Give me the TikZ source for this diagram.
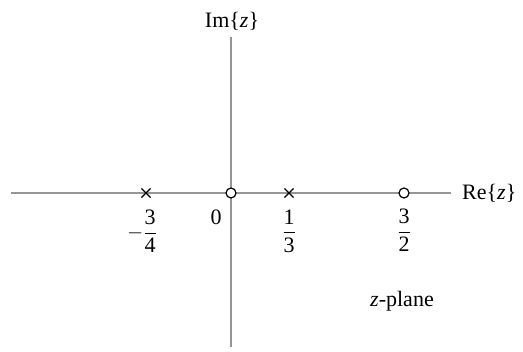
\documentclass[tikz,border=0pt]{standalone}
\usepackage{amsmath}
\usepackage{fontspec}
\setmainfont{Liberation Serif}
\usetikzlibrary{shapes.misc}
\definecolor{axisgray}{RGB}{150,150,150}
\begin{document}
\begin{tikzpicture}[x=1pt,y=-1pt,
  axis/.style={draw=axisgray,line width=1.3pt},
  polemark/.style={cross out,draw=black,line width=1.1pt,minimum size=8pt,inner sep=0pt},
  zeromark/.style={circle,draw=black,fill=white,line width=1.2pt,minimum size=10pt,inner sep=0pt},
  lbl/.style={font=\fontsize{22}{26}\selectfont,inner sep=0pt}]
\useasboundingbox (0,0) rectangle (523,352);
\coordinate (xl) at (11,193);
\coordinate (xr) at (451,193);
\coordinate (yt) at (231,37);
\coordinate (yb) at (231,347);
\draw[axis] (xl) -- (xr);
\draw[axis] (yt) -- (yb);
\node[zeromark] (z0) at (231,193) {};
\node[zeromark] (z1) at (404,193) {};
\node[polemark] (p0) at (146,193) {};
\node[polemark] (p1) at (289,193) {};
\node[lbl] (im) at (232,21) {Im\{\textit{z}\}};
\node[lbl,anchor=west] (re) at (462,193) {Re\{\textit{z}\}};
\node[lbl] (lm) at (142,231) {$-\dfrac{\text{3}}{\text{4}}$};
\node[lbl] (l0) at (216,217) {0};
\node[lbl] (l1) at (289,231) {$\dfrac{\text{1}}{\text{3}}$};
\node[lbl] (l2) at (404,230) {$\dfrac{\text{3}}{\text{2}}$};
\node[lbl] (zp) at (402,301) {\textit{z}-plane};
\end{tikzpicture}
\end{document}
